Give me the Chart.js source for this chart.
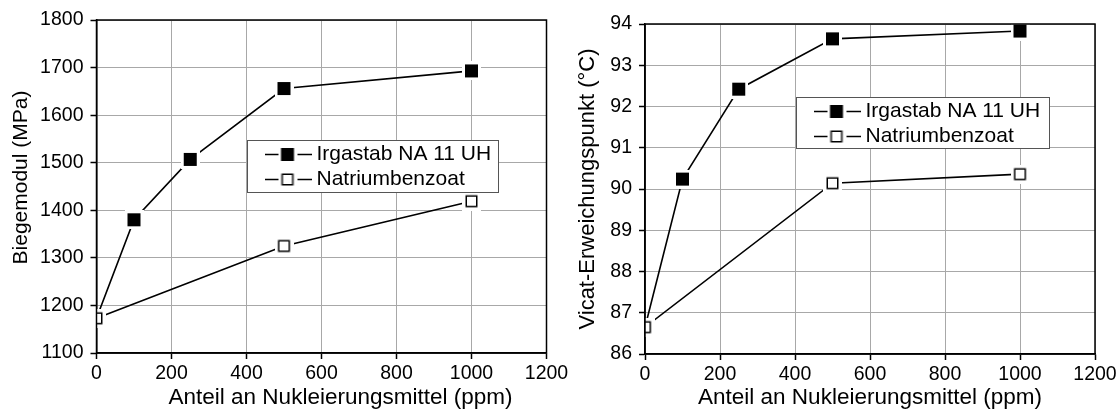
<!DOCTYPE html>
<html>
<head>
<meta charset="utf-8">
<script src="https://cdn.jsdelivr.net/npm/chart.js@4"></script>
<style>
  html, body { margin: 0; padding: 0; background: #fff; }
  body { width: 1120px; height: 409px; position: relative; overflow: hidden; }
  canvas { position: absolute; top: 0; }
  #modulChart { left: 0; }
  #vicatChart { left: 560px; }
</style>
</head>
<body>
<canvas id="modulChart" width="580" height="409"></canvas>
<canvas id="vicatChart" width="560" height="409"></canvas>
<script>
// values
const seriesNames = ['Irgastab NA 11 UH', 'Natriumbenzoat'];
const ppmIrgastab = [0, 100, 250, 500, 1000];
const ppmNatrium = [0, 500, 1000];
const modulIrgastab = [1173, 1380, 1507, 1656, 1693];
const modulNatrium = [1173, 1325, 1419];
const vicatIrgastab = [86.65, 90.24, 92.42, 93.64, 93.83];
const vicatNatrium = [86.65, 90.14, 90.36];
const xTitle = 'Anteil an Nukleierungsmittel (ppm)';

Chart.defaults.font.family = "'Liberation Sans', Arial, sans-serif";
Chart.defaults.color = '#000';

// square markers with a white halo so the lines stop short of them
function makeMarker(filled) {
  const c = document.createElement('canvas');
  c.width = 19; c.height = 19;
  const g = c.getContext('2d');
  g.fillStyle = '#fff';
  g.fillRect(0, 0, 19, 19);
  if (filled) {
    g.fillStyle = '#000';
    g.fillRect(3, 3, 13, 13);
  } else {
    g.strokeStyle = '#000';
    g.lineWidth = 1.5;
    g.strokeRect(4.25, 4.25, 10.5, 10.5);
  }
  return c;
}

function makeLegendIcon(marker) {
  const c = document.createElement('canvas');
  c.width = 48; c.height = 19;
  const g = c.getContext('2d');
  g.strokeStyle = '#000';
  g.lineWidth = 1.5;
  g.beginPath(); g.moveTo(0, 9.5); g.lineTo(48, 9.5); g.stroke();
  g.drawImage(marker, 14.5, 0);
  return c;
}

const markers = [makeMarker(true), makeMarker(false)];
const legendIcons = markers.map(makeLegendIcon);

const toPoints = (xs, ys) => xs.map((x, i) => ({ x: x, y: ys[i] }));

function shiftTitle(scale, dx, dy) {
  if (!scale || scale._shifted || (!dx && !dy)) return;
  const draw = scale.drawTitle.bind(scale);
  scale.drawTitle = function () {
    this.ctx.save();
    this.ctx.translate(dx, dy);
    draw();
    this.ctx.restore();
  };
  scale._shifted = true;
}

function makeChart(id, p) {
  const ctx = document.getElementById(id).getContext('2d');
  return new Chart(ctx, {
    type: 'line',
    data: {
      datasets: [{
        label: seriesNames[0],
        data: toPoints(ppmIrgastab, p.irgastab),
        borderColor: '#000',
        borderWidth: 1.6,
        pointStyle: markers[0],
        pointRadius: 6,
        pointHoverRadius: 6,
        tension: 0,
        fill: false
      }, {
        label: seriesNames[1],
        data: toPoints(ppmNatrium, p.natrium),
        borderColor: '#000',
        borderWidth: 1.6,
        pointStyle: markers[1],
        pointRadius: 6,
        pointHoverRadius: 6,
        tension: 0,
        fill: false,
        order: -1 // on top at x = 0
      }]
    },
    options: {
      responsive: false,
      animation: false,
      devicePixelRatio: 1,
      events: [],
      layout: { padding: { left: 0, top: p.padTop, right: p.padRight, bottom: 0 } },
      scales: {
        x: {
          type: 'linear',
          min: 0,
          max: 1200,
          ticks: { stepSize: 200, padding: 3, maxRotation: 0, font: { size: 19.5 }, color: '#000', callback: v => String(v) },
          grid: { color: '#a8a8a8', lineWidth: 1, tickLength: 6, tickColor: '#000', tickWidth: 1.5 },
          border: { color: '#000', width: 1.5 },
          title: { display: true, text: xTitle, font: { size: 22.5 }, color: '#000', padding: { top: 0, bottom: -2 } },
          afterFit: s => { s.height = p.xHeight; s.paddingLeft = 0; s.paddingRight = 0; }
        },
        y: {
          type: 'linear',
          min: p.yMin,
          max: p.yMax,
          ticks: { stepSize: p.yStep, padding: 7, font: { size: 19.5 }, color: '#000', callback: v => String(v) },
          grid: { color: '#a8a8a8', lineWidth: 1, tickLength: 6, tickColor: '#000', tickWidth: 1.5 },
          border: { color: '#000', width: 1.5 },
          title: { display: true, text: p.yTitle, font: { size: p.yTitleSize }, color: '#000', padding: { top: p.yTitlePad, bottom: 0 } },
          afterFit: s => { s.width = p.yWidth; s.paddingTop = 0; s.paddingBottom = 0; }
        }
      },
      plugins: {
        tooltip: { enabled: false },
        legend: {
          position: 'chartArea',
          align: 'start',
          labels: {
            usePointStyle: true,
            pointStyleWidth: 37,
            padding: 4,
            color: '#000',
            font: { size: 21 },
            generateLabels: chart => chart.data.datasets.map((ds, i) => ({
              text: ds.label,
              pointStyle: legendIcons[i],
              fontColor: '#000',
              lineWidth: 0,
              hidden: false,
              datasetIndex: i
            }))
          }
        }
      }
    },
    plugins: [{
      id: 'panel',
      afterLayout(chart) {
        const lg = chart.legend;
        lg.left = p.box.x + 18;
        lg.top = p.box.y;
        shiftTitle(chart.scales.x, p.xTitleShift, 0);
        shiftTitle(chart.scales.y, 0, p.yTitleShift);
      },
      afterDatasetsDraw(chart) {
        const { ctx, chartArea: a } = chart;
        ctx.save();
        ctx.strokeStyle = '#000';
        ctx.lineWidth = 1.5;
        ctx.strokeRect(a.left, a.top, a.right - a.left, a.bottom - a.top);
        // legend frame, then the legend itself on top of it
        ctx.fillStyle = '#fff';
        ctx.fillRect(p.box.x, p.box.y, p.box.w, p.box.h);
        ctx.strokeStyle = '#555';
        ctx.lineWidth = 1;
        ctx.strokeRect(p.box.x + 0.5, p.box.y + 0.5, p.box.w, p.box.h);
        ctx.restore();
        chart.legend.draw();
      }
    }]
  });
}

const modulChart = makeChart('modulChart', {
  irgastab: modulIrgastab,
  natrium: modulNatrium,
  yMin: 1100, yMax: 1800, yStep: 100,
  yTitle: 'Biegemodul (MPa)',
  yTitleSize: 21,
  yTitlePad: 9,
  yWidth: 96.5,
  xHeight: 56,
  padTop: 20,
  padRight: 33.5,
  xTitleShift: 19,
  yTitleShift: -9,
  box: { x: 247, y: 140, w: 251, h: 52 }
});

const vicatChart = makeChart('vicatChart', {
  irgastab: vicatIrgastab,
  natrium: vicatNatrium,
  yMin: 86, yMax: 94, yStep: 1,
  yTitle: 'Vicat-Erweichungspunkt (°C)',
  yTitleSize: 22,
  yTitlePad: 15,
  yWidth: 85,
  xHeight: 55,
  padTop: 24,
  padRight: 25,
  xTitleShift: 0,
  yTitleShift: 0,
  box: { x: 236, y: 97, w: 253, h: 51 }
});
</script>
</body>
</html>
